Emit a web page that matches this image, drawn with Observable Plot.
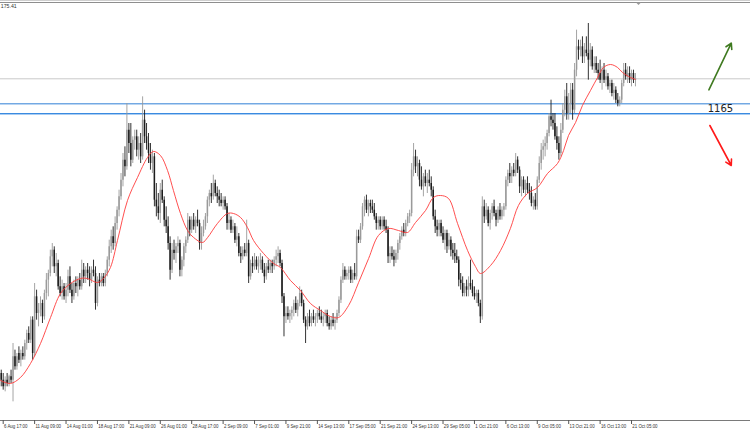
<!DOCTYPE html>
<html>
<head>
<meta charset="utf-8">
<script src="https://cdn.jsdelivr.net/npm/d3@7"></script>
<script src="https://cdn.jsdelivr.net/npm/@observablehq/plot@0.6"></script>
<style>
  html, body { margin: 0; padding: 0; background: #ffffff; }
  #chart svg { display: block; background: #ffffff; }
</style>
</head>
<body>
<div id="chart"></div>
<script>
// ---- Data (XAUUSD, H4 bars) ----
const firstBar = -1; // index of the first bar; bar 0 = "6 Aug 17:00"
const opens = [1087,
 1085,1083,1085,1084,1086,1085,1092,1089,1093,1091,1093,1092,1096,1099,1097,1103,
 1093,1110,1105,1106,1108,1104,1111,1115,1117,1122,1124,1119,1120,1113,1111,1113,
 1110,1112,1116,1112,1110,1114,1113,1115,1113,1118,1116,1118,1117,1115,1118,1117,
 1108,1115,1114,1116,1114,1117,1121,1125,1128,1126,1132,1136,1140,1145,1151,1149,
 1160,1156,1151,1157,1158,1154,1156,1152,1163,1158,1156,1153,1150,1152,1139,1137,
 1135,1142,1139,1133,1131,1126,1118,1124,1123,1125,1126,1118,1121,1125,1127,1133,
 1130,1133,1131,1133,1132,1126,1129,1131,1134,1139,1141,1140,1144,1141,1140,1139,
 1138,1139,1137,1132,1133,1130,1131,1127,1128,1123,1122,1124,1123,1126,1116,1120,
 1119,1121,1119,1120,1121,1118,1116,1119,1118,1120,1119,1121,1122,1123,1120,1110,
 1104,1105,1104,1105,1106,1108,1106,1108,1111,1108,1103,1101,1104,1102,1104,1103,
 1104,1105,1104,1103,1104,1105,1102,1101,1103,1102,1103,1105,1109,1115,1118,1116,
 1117,1118,1115,1117,1116,1128,1127,1131,1137,1139,1136,1138,1137,1136,1134,1132,
 1133,1131,1133,1131,1130,1122,1123,1122,1121,1123,1126,1128,1130,1129,1132,1134,
 1135,1148,1152,1149,1150,1145,1143,1146,1144,1145,1144,1142,1134,1131,1130,1132,
 1129,1127,1129,1125,1127,1124,1123,1122,1121,1115,1114,1111,1113,1112,1114,1113,
 1111,1110,1111,1108,1104,1137,1134,1136,1132,1135,1137,1135,1133,1136,1134,1136,
 1137,1145,1147,1146,1148,1147,1151,1148,1143,1145,1142,1144,1142,1141,1138,1139,
 1137,1145,1150,1154,1155,1156,1159,1164,1163,1162,1158,1156,1153,1160,1166,1170,
 1165,1168,1172,1166,1178,1185,1184,1185,1182,1184,1183,1181,1184,1179,1180,1178,
 1177,1175,1178,1175,1176,1173,1174,1171,1172,1169,1168,1169,1174,1178,1176,1177,
 1175,1177,1175];
const highs = [1088,
 1087,1086,1087,1086.5,1088,1096,1094,1093,1095,1094,1095,1097,1100,1101,1104,1104,
 1114,1112,1108,1110,1109,1112,1117,1118,1124,1126,1125,1123,1121,1116,1115,1114,
 1114,1118,1119,1114,1115,1116,1116,1117,1121,1120,1119,1120,1119,1119,1121,1119,
 1116,1117,1117,1117,1118,1122,1127,1130,1131,1134,1137,1142,1147,1153,1155,1168,
 1162,1162,1158,1160,1160,1158,1159,1170,1166,1162,1159,1156,1154,1153,1144,1141,
 1144,1145,1140,1137,1134,1128,1126,1127,1126,1128,1127,1122,1126,1128,1135,1134,
 1134,1135,1134,1136,1133,1131,1133,1135,1140,1142,1144,1146.5,1145,1143,1142,1141,
 1140,1140,1138,1135,1134,1133,1132,1131,1129,1125,1125,1126,1133,1127,1121,1122,
 1123,1122,1122,1123,1122,1120,1120,1121,1121,1121,1122,1124,1125,1124,1121,1111,
 1107,1107,1106,1107,1109,1110,1109,1113,1112,1109,1104,1105,1106,1105,1106,1105,
 1106,1107,1106,1105,1106,1106,1104,1104,1105,1104,1106,1110,1116,1120,1119,1118,
 1119,1119,1118,1120,1130,1130,1132,1138,1140,1140.5,1139,1139,1139,1138,1135,1134,
 1134,1134,1134,1133,1131,1125,1125,1124,1124,1127,1129,1131,1132,1133,1135,1136,
 1150,1156,1154,1152,1151,1149,1147,1148,1147,1148,1146,1143,1136,1133,1133,1133,
 1131,1130,1130,1129,1128,1126,1126,1124,1122,1117,1116,1114,1115,1116,1121,1115,
 1113,1112,1112,1109,1140,1139,1138,1137,1136,1138,1139,1136,1137,1138,1137,1138,
 1146,1148,1150,1149,1150,1153,1152,1149,1146,1146,1145,1146,1144,1143,1140,1141,
 1146,1152,1156,1157,1158,1160,1165,1169,1165,1165,1161,1158,1162,1168,1172,1174,
 1171,1174,1174,1180,1190,1187,1187,1188,1186,1188,1192,1186,1185,1182,1182,1180,
 1181,1179,1180,1178,1177,1175,1175,1174,1173,1171,1170,1175,1180,1180,1179,1179,
 1178,1178,1177];
const lows = [1083,
 1082,1081.5,1083,1083,1084,1078.5,1088,1088,1090,1089,1091,1091,1094,1096,1096,1091,
 1092,1103,1101,1104,1102,1103,1109,1110,1116,1119,1117,1116,1112,1110,1109,1109,
 1108,1110,1111,1108,1109,1111,1110,1112,1112,1114,1114,1115,1113,1114,1116,1106,
 1107,1113,1113,1113,1113,1116,1119,1123,1124,1125,1130,1134,1139,1143,1146,1148,
 1153,1149,1150,1154,1152,1151,1150,1151,1156,1154,1150,1148,1147,1137,1134,1133,
 1132,1138,1131,1129,1124,1115,1117,1121,1120,1123,1116,1116,1119,1123,1126,1128,
 1129,1130,1129,1131,1124,1124,1128,1130,1132,1137,1138,1139,1140,1138,1137,1137,
 1136,1136,1130,1130,1129,1129,1126,1125,1122,1120,1121,1122,1122,1114,1115,1117,
 1118,1118,1117,1118,1117,1114,1115,1117,1117,1117,1118,1119,1120,1119,1108,1098,
 1102,1103,1102,1103,1104,1105,1104,1107,1107,1102,1096,1100,1101,1101,1102,1101,
 1102,1103,1102,1101,1102,1101,1100,1100,1101,1100,1102,1104,1108,1114,1115,1115,
 1115,1114,1114,1115,1115,1126,1126,1130,1134,1135,1134,1135,1135,1133,1130,1130,
 1130,1130,1130,1129,1120,1120,1121,1119,1120,1121,1124,1127,1128,1128,1131,1132,
 1134,1146,1147,1146,1143,1142,1140,1143,1141,1143,1140,1133,1129,1128,1128,1128,
 1126,1124,1123,1124,1122,1121,1120,1120,1113,1112,1110,1110,1110,1110,1112,1110,
 1109,1108,1107,1102,1103,1132,1133,1131,1130,1133,1134,1131,1132,1133,1133,1134,
 1136,1143,1144,1144,1146,1146,1147,1141,1140,1141,1140,1141,1139,1137,1136,1136,
 1136,1144,1148,1151,1152,1154,1158,1161,1160,1157,1154,1151,1152,1159,1164,1163,
 1163,1165,1163,1165,1176,1181,1182,1180,1180,1182,1175,1179,1178,1177,1177,1175,
 1174,1172,1174,1173,1172,1171,1170,1169,1168,1167,1167,1168,1173,1175,1174,1174,
 1173,1174,1173];
const closes = [1085,
 1083,1085,1084,1086,1085,1092,1089,1092,1091,1093,1092,1096,1099,1097,1103,1093,
 1110,1105,1106,1108,1104,1111,1115,1117,1122,1124,1119,1120,1113,1111,1113,1110,
 1112,1116,1112,1110,1114,1113,1115,1113,1118,1116,1118,1117,1115,1118,1117,1108,
 1115,1114,1116,1114,1117,1121,1125,1128,1126,1132,1136,1140,1145,1151,1149,1160,
 1156,1151,1157,1158,1154,1156,1152,1163,1158,1156,1153,1150,1152,1139,1137,1135,
 1142,1139,1133,1131,1126,1118,1124,1123,1125,1126,1118,1121,1125,1127,1133,1130,
 1133,1131,1133,1132,1126,1129,1131,1134,1139,1141,1140,1144,1141,1140,1139,1138,
 1139,1137,1132,1133,1130,1131,1127,1128,1123,1122,1124,1123,1126,1116,1120,1119,
 1121,1119,1120,1121,1118,1116,1119,1118,1120,1119,1121,1122,1123,1120,1110,1104,
 1105,1104,1105,1106,1108,1106,1108,1111,1108,1103,1101,1104,1102,1104,1103,1104,
 1105,1104,1103,1104,1105,1102,1101,1103,1102,1103,1105,1109,1115,1118,1116,1117,
 1118,1115,1117,1116,1128,1127,1131,1137,1139,1136,1138,1137,1136,1134,1132,1133,
 1131,1133,1131,1130,1122,1123,1122,1121,1123,1126,1128,1130,1129,1132,1134,1135,
 1148,1152,1149,1150,1145,1143,1146,1144,1145,1144,1142,1134,1131,1130,1132,1129,
 1127,1129,1125,1127,1124,1123,1122,1121,1115,1114,1111,1113,1112,1114,1113,1111,
 1110,1111,1108,1104,1137,1134,1136,1132,1135,1137,1135,1133,1136,1134,1136,1137,
 1145,1147,1146,1148,1147,1151,1148,1143,1145,1142,1144,1142,1141,1138,1139,1137,
 1145,1150,1154,1155,1156,1159,1164,1163,1162,1158,1156,1153,1160,1166,1170,1165,
 1168,1172,1166,1178,1185,1184,1185,1182,1184,1183,1181,1184,1179,1180,1178,1177,
 1175,1178,1175,1176,1173,1174,1171,1172,1169,1168,1169,1174,1178,1176,1177,1175,
 1177,1175,1175.41];

// moving average
const maBars = [-1.4,3.7,8.8,13.9,19.0,24.1,29.2,34.3,39.4,42.9,48.0,51.1,54.6,58.2,63.3,68.4,73.5,76.5,80.1,83.7,86.7,90.3,93.9,97.0,101.5,104.1,109.1,114.2,117.3,120.9,124.4,127.5,132.6,137.7,141.2,146.3,151.4,156.5,161.6,166.7,170.8,175.9,181.0,186.1,191.1,196.2,201.3,205.9,210.0,215.1,219.1,222.7,226.8,231.4,236.5,240.5,243.1,248.2,253.3,258.3,262.4,267.0,272.1,277.2,282.3,285.4,287.9,291.5,295.0,299.1,302.7,305.7,309.3,312.9,315.4,318.5,322.0];
const maValues = [1084.9,1084.0,1085.8,1090.0,1096.0,1103.8,1111.0,1114.0,1115.5,1115.5,1114.3,1115.5,1118.8,1126.9,1138.9,1145.8,1151.8,1153.6,1152.4,1147.9,1141.9,1135.0,1129.9,1127.8,1126.3,1127.8,1132.0,1135.0,1135.0,1133.8,1130.8,1126.9,1123.0,1120.0,1118.8,1114.9,1111.9,1108.0,1105.9,1104.1,1103.8,1107.4,1114.3,1121.5,1128.4,1130.5,1129.9,1129.3,1132.3,1135.9,1139.8,1140.4,1139.5,1132.0,1123.9,1119.1,1117.0,1119.4,1123.9,1130.5,1137.4,1141.0,1142.8,1147.0,1150.0,1153.9,1158.4,1162.3,1167.4,1171.9,1175.8,1178.8,1179.7,1178.8,1177.3,1176.1,1175.2];

// time axis
const tickBars = [0,16,32,48,64,80,96,112,128,144,160,176,192,208,224,240,256,272,288,304,320];
const tickLabels = ["6 Aug 17:00","11 Aug 09:00","14 Aug 01:00","18 Aug 17:00","21 Aug 09:00","26 Aug 01:00","28 Aug 17:00","2 Sep 09:00","7 Sep 01:00","9 Sep 21:00","14 Sep 13:00","17 Sep 05:00","21 Sep 21:00","24 Sep 13:00","29 Sep 05:00","1 Oct 21:00","6 Oct 13:00","9 Oct 05:00","13 Oct 21:00","16 Oct 13:00","21 Oct 05:00"];

// levels and annotations
const bidPrice = 1175.41;
const levelUpper = 1167.9;
const levelLower = 1165;
const levelText = "1165";
const levelTextAt = {bar: 365.3, price: 1166.4};
const arrowUp = {bar1: 359.4, p1: 1172.1, bar2: 370.8, p2: 1186.1};
const arrowDown = {bar1: 359.9, p1: 1161.4, bar2: 370.8, p2: 1149.4};
const cornerText = "175.41";
const axisPrice = 1072.9;
const xDomain = [-1.375, 380.59];
const yDomain = [1069.9, 1198.9];

// ---- Build ----
const bars = closes.map((c, k) => ({i: firstBar + k, o: opens[k], h: highs[k], l: lows[k], c}));
const ma = maBars.map((b, k) => ({i: b, p: maValues[k]}));
const bull = "#9a9a9a", bear = "#1c1c1c";
const col = d => d.c >= d.o ? bull : bear;

const plot = Plot.plot({
  width: 750, height: 430,
  marginTop: 0, marginBottom: 0, marginLeft: 0, marginRight: 0,
  x: {domain: xDomain, axis: null},
  y: {domain: yDomain, axis: null},
  color: {type: "identity"},
  style: {background: "#ffffff", fontFamily: "'Liberation Sans', Arial, sans-serif"},
  marks: [
    Plot.ruleY([bidPrice], {stroke: "#c9c9c9", strokeWidth: 1}),
    Plot.ruleY([levelUpper], {stroke: "#2f7fd6", strokeWidth: 1}),
    Plot.ruleY([levelLower], {stroke: "#3a8ae0", strokeWidth: 1}),
    Plot.ruleY([levelLower], {stroke: "#a9cdf3", strokeWidth: 1, dy: 1}),
    Plot.ruleX(bars, {x: "i", y1: "l", y2: "h", stroke: col, strokeWidth: 0.9}),
    Plot.ruleX(bars, {x: "i", y1: "o", y2: "c", stroke: col, strokeWidth: 1.5}),
    Plot.line(ma, {x: "i", y: "p", stroke: "#ff3b3b", strokeWidth: 0.9, curve: "catmull-rom"}),
    Plot.ruleY([axisPrice], {stroke: "#7a7a7a", strokeWidth: 1}),
    Plot.ruleX(tickBars, {x: d => d, y1: axisPrice, y2: axisPrice - 1.2, stroke: "#555", strokeWidth: 1}),
    Plot.text(tickBars, {x: d => d, y: axisPrice, dy: 5.4, dx: 0.8, text: (d, k) => tickLabels[k],
      textAnchor: "start", fontSize: 5.8, fill: "#333"}),
    Plot.text([cornerText], {x: xDomain[0], y: yDomain[1], dy: 5.6, dx: 0.3, text: d => d,
      textAnchor: "start", fontSize: 5.2, fill: "#333"}),
    Plot.arrow([arrowUp], {x1: "bar1", y1: "p1", x2: "bar2", y2: "p2", stroke: "#3f7a20", strokeWidth: 1.6, headLength: 6}),
    Plot.arrow([arrowDown], {x1: "bar1", y1: "p1", x2: "bar2", y2: "p2", stroke: "#ff1a1a", strokeWidth: 1.6, headLength: 6}),
    Plot.text([levelTextAt], {x: "bar", y: "price", text: () => levelText, fontSize: 10,
      fontFamily: "'DejaVu Sans', sans-serif", fill: "#222", textAnchor: "middle"})
  ]
});

// chart frame decoration at the top (window border and shift marker)
const svg = d3.select(plot);
svg.append("line").attr("x1", 0).attr("x2", 750).attr("y1", 0.5).attr("y2", 0.5).attr("stroke", "#cfcfcf");
svg.append("line").attr("x1", 0).attr("x2", 750).attr("y1", 2.5).attr("y2", 2.5).attr("stroke", "#8e8e8e");
svg.append("path").attr("d", "M636,2.5L641,2.5L638.5,5Z").attr("fill", "#9a9a9a");

document.getElementById("chart").appendChild(plot);

// condense the time labels horizontally (narrow platform font)
const labelSet = new Set(tickLabels);
svg.selectAll("text").filter(function () { return labelSet.has(this.textContent); }).each(function () {
  const bb = this.getBBox();
  const prev = this.getAttribute("transform");
  const t = `translate(${bb.x},0) scale(0.76,1) translate(${-bb.x},0)`;
  this.setAttribute("transform", prev ? prev + " " + t : t);
});
</script>
</body>
</html>
